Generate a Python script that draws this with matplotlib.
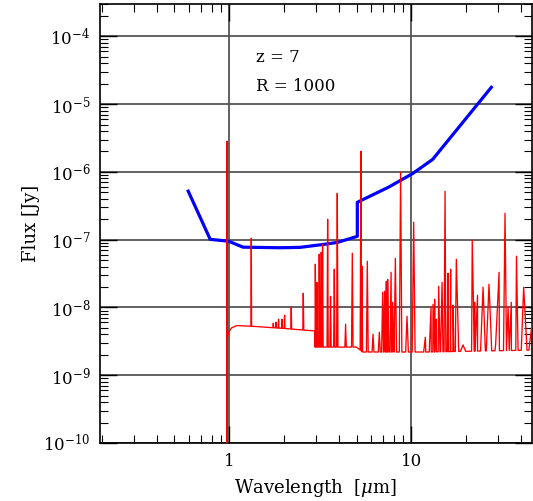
import matplotlib
matplotlib.use('Agg')
import matplotlib.pyplot as plt
import numpy as np
from matplotlib.ticker import LogLocator, NullFormatter

# blue sensitivity curve
sens_wave = [0.595, 0.786, 0.99, 1.19, 1.90, 2.45, 3.28, 3.92, 5.05, 5.05,
             7.48, 10.2, 13.1, 27.5]
sens_flux = [5.2e-7, 1.01e-7, 9.5e-8, 7.75e-8, 7.6e-8, 7.7e-8, 8.5e-8, 9.1e-8,
             1.12e-7, 3.56e-7, 5.93e-7, 9.5e-7, 1.53e-6, 1.77e-5]

# red model spectrum: continuum knots
cont_wave = [0.90, 0.974, 0.9745, 0.99, 1.03, 1.10, 1.30, 2.00, 2.95, 2.96,
             5.00, 5.40, 12.0, 47.0]
cont_flux = [1e-12, 1e-12, 3.4e-9, 4.3e-9, 5.0e-9, 5.4e-9, 5.3e-9, 4.9e-9,
             4.5e-9, 2.6e-9, 2.6e-9, 2.2e-9, 2.2e-9, 2.35e-9]

# emission lines: wavelength [um], peak flux [Jy]
line_wave = [0.971, 1.321, 1.745, 1.805, 1.865, 1.948, 2.013, 2.19, 2.55,
             2.97, 3.03, 3.12, 3.20, 3.255, 3.47, 3.60, 3.775, 3.92, 4.355,
             4.74, 5.29, 5.36, 5.73, 6.16, 6.67, 6.96, 7.13, 7.29, 7.41,
             7.74, 7.90, 8.17, 8.73, 9.47, 10.3, 11.94, 12.83, 13.16, 13.43,
             13.72, 14.13, 14.75, 15.32, 15.91, 16.44, 16.95, 17.67, 19.23,
             21.6, 22.27, 23.1, 24.77, 26.7, 29.05, 30.33, 32.7, 34.0, 35.4,
             37.8, 41.4, 46.8]
line_flux = [2.83e-6, 1.05e-7, 5.85e-9, 6.05e-9, 6.7e-9, 6.7e-9, 7.67e-9,
             1.01e-8, 1.62e-8, 4.34e-8, 2.33e-8, 6.09e-8, 6.52e-8, 8.55e-8,
             2.0e-7, 1.46e-8, 3.66e-8, 4.83e-7, 5.65e-9, 6.3e-8, 2.01e-6,
             4.05e-8, 4.8e-8, 4.03e-9, 4.3e-9, 1.68e-8, 1.73e-8, 2.43e-8,
             2.6e-8, 3.3e-8, 1.19e-8, 5.3e-8, 9.86e-7, 7.4e-9, 1.81e-7,
             3.63e-9, 1.01e-8, 1.11e-8, 1.32e-8, 6.7e-9, 2.05e-8, 2.35e-8,
             5.18e-7, 3.19e-8, 3.66e-8, 1.08e-8, 5.14e-8, 2.8e-9, 9.8e-8,
             1.19e-8, 1.51e-8, 1.99e-8, 2.2e-8, 2.87e-9, 3.3e-8, 2.45e-7,
             1.01e-8, 1.19e-8, 5.7e-8, 1.99e-8, 8.5e-9]

x_ticks = [1, 10]
x_ticklabels = ['1', '10']


def cont_at(x):
    return 10 ** np.interp(np.log10(x), np.log10(cont_wave), np.log10(cont_flux))


lw = np.array(line_wave)
lf = np.array(line_flux)
# line half width grows with wavelength (coarser sampling in the red)
half = lw * (0.002 + 0.0016 * lw)
half[0] = 0.0029
wave = np.concatenate([cont_wave, lw - half, lw, lw + half])
flux = np.concatenate([cont_flux, cont_at(lw - half), lf, cont_at(lw + half)])
order = np.argsort(wave, kind='stable')
wave = wave[order]
flux = flux[order]

plt.rcParams['font.family'] = 'DejaVu Serif'
plt.rcParams['mathtext.fontset'] = 'dejavuserif'

fig = plt.figure(figsize=(5.33, 5.01), dpi=100)
ax = fig.add_axes([100 / 533, 58 / 501, 432 / 533, 439 / 501])

ax.plot(sens_wave, sens_flux, color='#0000ff', lw=2.3, zorder=3)
ax.plot(wave, flux, color='#ff0000', lw=0.95, zorder=4)

ax.set_xscale('log')
ax.set_yscale('log')
ax.set_xlim(0.195, 46.0)
ax.set_ylim(1e-10, 3e-4)

ax.set_xticks(x_ticks)
ax.set_xticklabels(x_ticklabels)
ax.xaxis.set_minor_locator(LogLocator(base=10, subs=np.arange(2, 10), numticks=20))
ax.xaxis.set_minor_formatter(NullFormatter())
ax.yaxis.set_major_locator(LogLocator(base=10, numticks=20))
ax.yaxis.set_minor_locator(LogLocator(base=10, subs=np.arange(2, 10), numticks=20))
ax.yaxis.set_minor_formatter(NullFormatter())

ax.tick_params(which='both', direction='in', top=True, right=True,
               labelsize=12, color='black')
ax.tick_params(which='major', length=12, width=1, pad=7)
ax.tick_params(which='minor', length=6, width=0.8)

ax.grid(True, which='major', color='#555555', lw=1.3)
ax.set_axisbelow(True)
for s in ax.spines.values():
    s.set_linewidth(1.2)

ax.text(0.361, 0.879, 'z = 7', transform=ax.transAxes, fontsize=12,
        ha='left', va='center')
ax.text(0.361, 0.813, 'R = 1000', transform=ax.transAxes, fontsize=12,
        ha='left', va='center')

ax.set_xlabel(r'Wavelength  [$\mu$m]', fontsize=13, labelpad=5)
ax.set_ylabel('Flux [Jy]', fontsize=13, labelpad=2)

fig.savefig('out.png', dpi=100)
